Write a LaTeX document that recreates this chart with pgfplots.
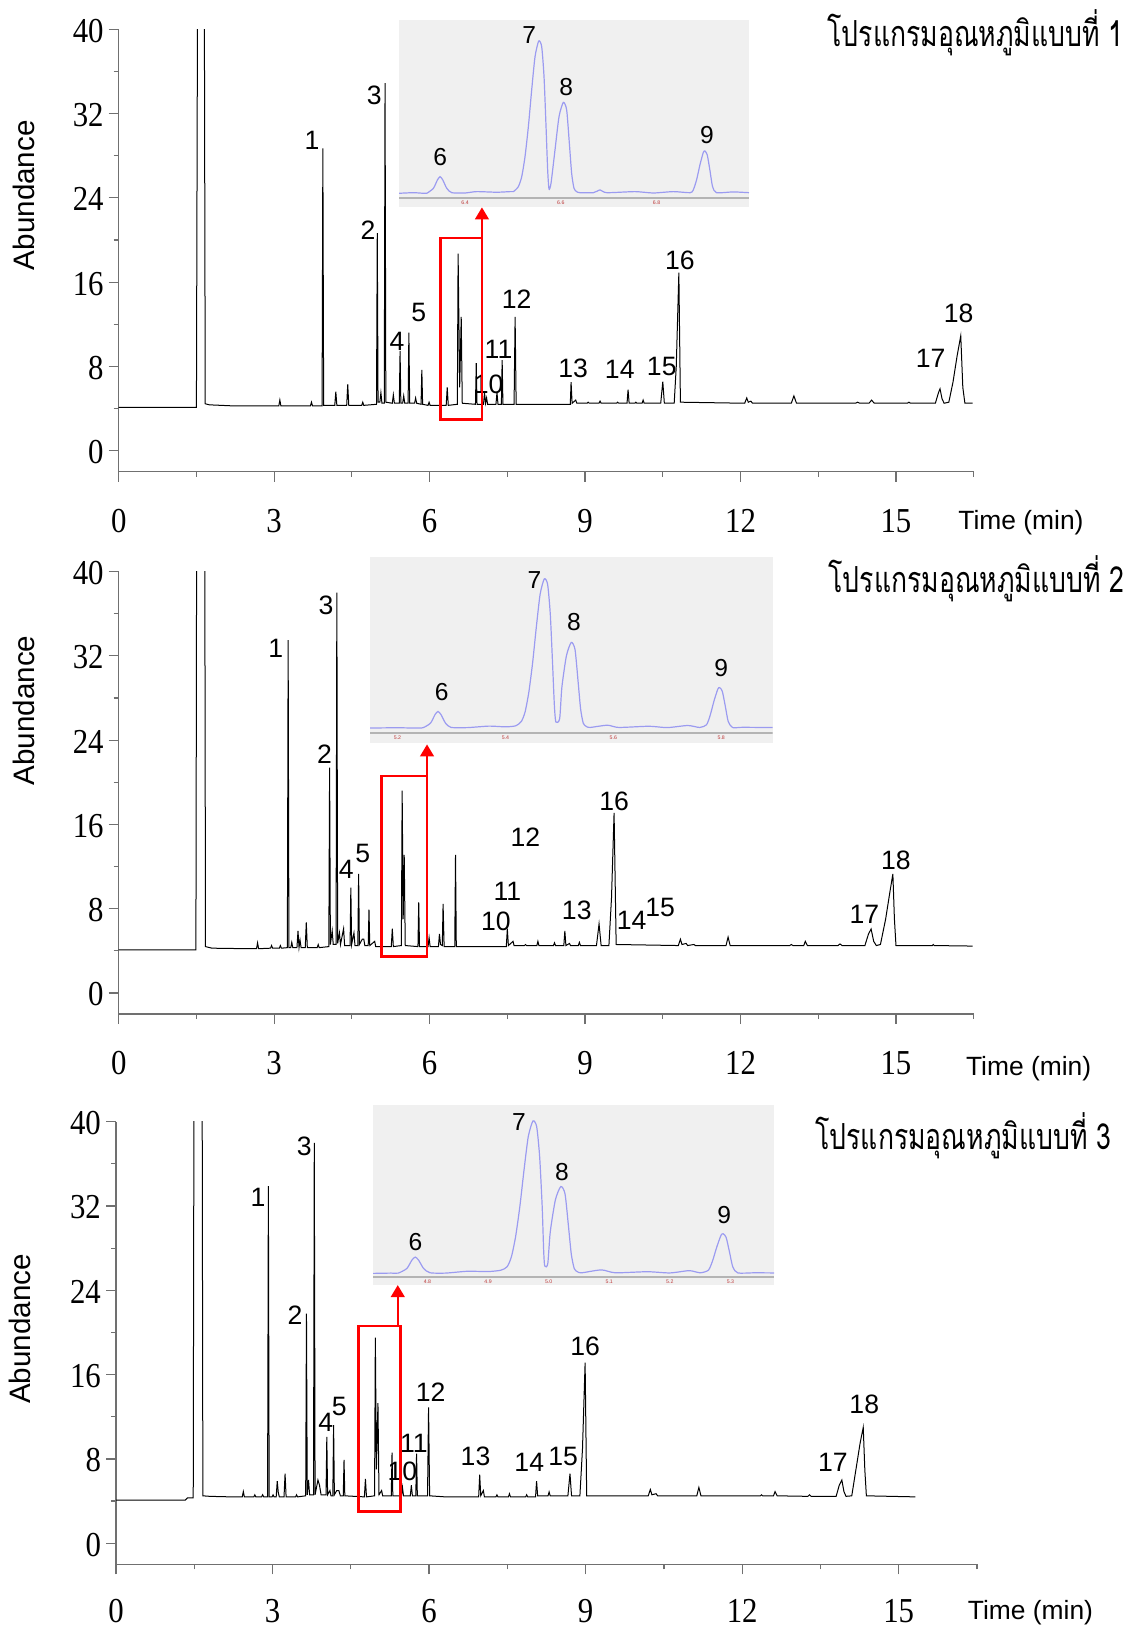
\documentclass[border=0pt]{standalone}
\usepackage{fontspec}
\setmainfont{Liberation Sans}
\newfontfamily\tickfont[FakeStretch=0.88]{Liberation Serif}
\newfontfamily\thaifont[Script=Thai]{Loma}
\usepackage{graphicx}
\usepackage{pgfplots}
\pgfplotsset{compat=1.18}
\usetikzlibrary{arrows.meta}
\definecolor{axisgray}{RGB}{112,112,112}
\definecolor{insetbg}{RGB}{240,240,240}
\definecolor{insettrace}{RGB}{155,155,240}
\definecolor{insetline}{RGB}{180,180,180}
\definecolor{tinyred}{RGB}{190,60,60}
\newcommand{\pkfont}{\fontsize{13.3}{13.3}\selectfont}
\newcommand{\insfont}{\fontsize{12.3}{12.3}\selectfont}
\newcommand{\pk}[3]{\node[font=\pkfont,inner sep=0pt,anchor=center] at (axis cs:#1,#2) {#3};}
\newcommand{\ip}[3]{\node[font=\insfont,inner sep=0pt,anchor=center] at (axis cs:#1,#2) {#3};}
\newcommand{\tl}[2]{\node[font=\fontsize{2.6}{3}\selectfont,text=tinyred,inner sep=0pt] at (axis cs:#1,#2) {#1};}
\newcommand{\thaititle}[1]{\scalebox{1}[1.35]{\resizebox{148pt}{!}{\thaifont\fontsize{14}{14}\selectfont โปรแกรมอุณหภูมิแบบที่ #1}}}
\pgfplotsset{
  chrom/.style={
    scale only axis, anchor=south west,
    xmin=0, xmax=16.5, ymin=-2, ymax=40,
    axis lines=left, axis line style={-, draw=axisgray, line width=0.6pt},
    xtick={0,3,...,15}, ytick={0,8,...,40},
    minor xtick={1.5,4.5,...,16.5}, minor ytick={4,12,...,36},
    tick align=outside, major tick length=5pt, minor tick length=2.5pt,
    every tick/.style={draw=axisgray, line width=0.6pt},
    tick label style={font=\tickfont\fontsize{17.5}{17.5}\selectfont, inner sep=0pt},
    /pgf/number format/assume math mode=true,
    xticklabel style={anchor=center, yshift=-19.5pt},
    yticklabel style={anchor=east, xshift=-2.35pt, yshift=-0.75pt},
    ylabel={Abundance},
    clip mode=individual,
  },
  trace/.style={black, line width=0.5pt, mark=none},
  inset/.style={
    scale only axis, anchor=south west,
    axis background/.style={fill=insetbg},
    axis line style={draw=none}, xtick=\empty, ytick=\empty,
    clip mode=individual,
  },
  itrace/.style={insettrace, line width=0.6pt, mark=none, smooth, tension=0.4},
}
\begin{document}
\begin{tikzpicture}
\useasboundingbox (0,0) rectangle (564pt,-814.5pt);

% ---------------- Panel 1 ----------------
\begin{axis}[chrom, at={(59.35pt,-235.85pt)}, width=427.5pt, height=221.2pt,
  every axis y label/.style={at={(rel axis cs:0,0.625)}, xshift=-47.35pt, rotate=90, anchor=center, font=\fontsize{14.8}{14.8}\selectfont}]
\addplot[trace] coordinates {
(0,4.1)(1.50,4.1)(1.53,60)(1.645,60)(1.67,4.45)(1.75,4.35)(2.2,4.25)(3.0,4.25)
(3.09,4.25)(3.11,4.8)(3.13,4.25)(3.70,4.25)(3.72,4.6)(3.74,4.25)
(3.925,4.25)(3.94,28.7)(3.955,4.3)(4.17,4.3)(4.19,5.6)(4.21,4.3)
(4.40,4.3)(4.42,6.3)(4.44,4.3)(4.69,4.3)(4.71,4.6)(4.73,4.3)
(4.975,4.4)(4.99,20.65)(5.005,4.6)(5.04,4.6)(5.06,5.5)(5.08,4.5)
(5.125,4.5)(5.14,34.9)(5.155,4.6)(5.28,4.5)(5.30,5.3)(5.32,4.5)
(5.415,4.5)(5.43,9.46)(5.445,4.5)(5.48,4.5)(5.50,5.2)(5.52,4.5)
(5.585,4.5)(5.60,11.2)(5.615,4.5)(5.71,4.5)(5.73,5.0)(5.75,4.5)
(5.835,4.4)(5.85,7.67)(5.865,4.4)(5.97,4.3)(5.99,4.6)(6.01,4.3)
(6.32,4.3)(6.34,6.0)(6.36,4.3)
(6.535,4.4)(6.55,18.7)(6.58,6.0)(6.61,12.7)(6.63,4.5)
(6.885,4.4)(6.90,8.3)(6.915,4.4)
(7.04,4.4)(7.06,5.5)(7.08,4.5)(7.10,5.0)(7.12,4.4)
(7.28,4.4)(7.30,5.5)(7.32,4.4)(7.385,4.4)(7.40,8.6)(7.415,4.4)
(7.63,4.4)(7.65,12.7)(7.67,4.4)(7.9,4.4)(8.5,4.4)
(8.715,4.4)(8.73,6.5)(8.75,4.5)(8.82,4.8)(8.84,4.5)
(9.04,4.5)(9.06,4.6)(9.08,4.5)(9.27,4.5)(9.29,4.7)(9.31,4.5)
(9.61,4.5)(9.63,4.6)(9.65,4.5)(9.81,4.5)(9.83,5.8)(9.85,4.5)
(9.96,4.5)(9.98,4.6)(10.0,4.5)(10.10,4.5)(10.12,4.8)(10.14,4.5)
(10.46,4.5)(10.50,6.56)(10.53,4.5)
(10.72,4.5)(10.76,8)(10.81,16.9)(10.84,4.6)
(12.08,4.5)(12.12,5.0)(12.15,4.6)(12.20,4.7)(12.23,4.5)
(12.98,4.5)(13.03,5.2)(13.08,4.5)(14.22,4.5)(14.26,4.6)(14.30,4.5)
(14.48,4.5)(14.53,4.8)(14.58,4.5)(15.22,4.5)(15.25,4.6)(15.28,4.5)
(15.76,4.5)(15.82,5.5)(15.85,5.87)(15.89,4.9)(15.93,4.5)
(16.02,4.6)(16.10,6.5)(16.18,9.0)(16.25,10.9)(16.29,6.0)(16.33,4.5)(16.48,4.5)
};
\pk{3.73}{29.5}{1}\pk{4.81}{20.9}{2}\pk{4.93}{33.7}{3}\pk{5.37}{10.4}{4}\pk{5.79}{13.1}{5}
\pk{7.14}{6.3}{10}\pk{7.33}{9.6}{11}\pk{7.68}{14.4}{12}\pk{8.77}{7.8}{13}\pk{9.67}{7.7}{14}
\pk{10.48}{8.0}{15}\pk{10.83}{18.1}{16}\pk{15.67}{8.8}{17}\pk{16.21}{13.0}{18}
\draw[red, line width=1.2pt] (axis cs:6.21,2.97) rectangle (axis cs:7.01,20.2);
\draw[red, line width=1.2pt, -{Triangle[width=6.8pt,length=6pt]}] (axis cs:7.01,20.2) -- (axis cs:7.01,23.1);
\end{axis}
\begin{axis}[inset, at={(199.5pt,-103.65pt)}, width=175pt, height=93.65pt,
  xmin=6.262, xmax=6.993, ymin=-9.2, ymax=113.8]
\addplot[insetline, line width=1pt] coordinates {(6.262,-2.8)(6.993,-2.8)};
\addplot[itrace] coordinates {
(6.262,0)(6.292,0.4)(6.313,0)(6.320,0)(6.3339,3.3)(6.3423,8.8)(6.3478,10.9)(6.3534,8.8)(6.3617,3.3)(6.3722,0.4)(6.40,0.2)(6.424,1.1)(6.466,0.7)(6.494,1.1)(6.5009,1.1)(6.5113,4.4)(6.5183,10.9)(6.5252,24.1)(6.5322,43.8)(6.5391,67.8)(6.5461,89.7)(6.5538,100)(6.5600,96.3)(6.5649,76.6)(6.5691,43.8)(6.5725,15.3)(6.5753,2.8)(6.5795,6.6)(6.5878,28.4)(6.5962,50.3)(6.6052,59.7)(6.6122,54.7)(6.6178,32.8)(6.6226,13.1)(6.6275,3.3)(6.633,1.1)(6.640,0.4)(6.668,0.4)(6.682,2.2)(6.696,0.4)(6.755,1.1)(6.793,0.2)(6.835,1.1)(6.87,0.4)(6.8766,2.2)(6.8835,8.8)(6.8905,18.6)(6.8974,26.7)(6.9009,27.8)(6.9058,25.2)(6.9113,15.3)(6.9169,4.4)(6.9252,0.4)(6.96,0.9)(6.993,0.4)
};
\ip{6.348}{23.6}{6}\ip{6.534}{104}{7}\ip{6.611}{70}{8}\ip{6.905}{38.3}{9}
\tl{6.4}{-6}\tl{6.6}{-6}\tl{6.8}{-6}
\end{axis}
\node[anchor=base east, inner sep=0pt] at (562pt,-23pt) {\thaititle{1}};
\node[anchor=base west, inner sep=0pt, font=\fontsize{13.2}{13.2}\selectfont] at (479pt,-264.7pt) {Time (min)};

% ---------------- Panel 2 ----------------
\begin{axis}[chrom, at={(59.35pt,-507pt)}, width=427.5pt, height=221.2pt,
  every axis y label/.style={at={(rel axis cs:0,0.686)}, xshift=-47.35pt, rotate=90, anchor=center, font=\fontsize{14.8}{14.8}\selectfont}]
\addplot[trace] coordinates {
(0,4.1)(1.49,4.1)(1.51,60)(1.655,60)(1.675,4.4)(1.8,4.25)(2.5,4.2)
(2.66,4.2)(2.68,4.76)(2.70,4.2)(2.93,4.25)(2.95,4.5)(2.97,4.25)
(3.10,4.25)(3.12,4.5)(3.14,4.25)(3.255,4.3)(3.27,33.5)(3.285,4.3)
(3.32,4.3)(3.34,4.8)(3.36,4.3)(3.44,4.3)(3.46,5.9)(3.48,4.3)(3.50,5.0)(3.52,4.3)
(3.60,4.3)(3.62,6.7)(3.64,4.3)(3.83,4.3)(3.85,4.6)(3.87,4.3)
(4.055,4.4)(4.07,21.4)(4.085,4.6)(4.12,5.9)(4.14,4.6)
(4.195,4.6)(4.21,38.0)(4.225,4.7)(4.26,5.7)(4.28,4.6)(4.34,6.1)(4.36,4.5)
(4.465,4.5)(4.48,10.0)(4.495,4.6)(4.54,5.7)(4.56,4.5)
(4.615,4.5)(4.63,11.3)(4.645,4.6)(4.70,5.1)(4.73,5.1)(4.75,4.5)
(4.815,4.5)(4.83,7.9)(4.845,4.5)(4.94,4.9)(4.96,4.4)
(5.26,4.4)(5.28,6.1)(5.30,4.4)
(5.455,4.5)(5.47,19.2)(5.49,7)(5.51,13.1)(5.53,4.5)
(5.775,4.4)(5.79,8.6)(5.805,4.4)(5.97,4.4)(5.99,5.25)(6.01,4.4)
(6.17,4.4)(6.19,5.6)(6.21,4.6)(6.245,4.5)(6.26,8.45)(6.28,4.4)
(6.485,4.4)(6.50,13.1)(6.515,4.4)(7.0,4.4)
(7.48,4.4)(7.50,6.1)(7.52,4.5)(7.61,4.9)(7.63,4.5)
(7.83,4.5)(7.85,4.6)(7.87,4.5)(8.07,4.5)(8.09,4.9)(8.11,4.5)
(8.39,4.5)(8.41,4.76)(8.43,4.5)(8.59,4.5)(8.61,5.9)(8.63,4.5)(8.70,4.7)(8.72,4.5)
(8.87,4.5)(8.89,4.8)(8.91,4.5)(9.22,4.5)(9.27,6.56)(9.31,4.5)
(9.46,4.5)(9.51,9)(9.56,17.1)(9.60,4.6)
(10.80,4.5)(10.84,5.1)(10.87,4.6)(10.95,4.7)(10.98,4.5)(11.10,4.6)(11.13,4.5)
(11.72,4.5)(11.76,5.3)(11.80,4.5)
(12.95,4.5)(12.98,4.6)(13.01,4.5)(13.22,4.5)(13.25,4.9)(13.29,4.5)
(13.88,4.5)(13.92,4.65)(13.96,4.5)
(14.40,4.5)(14.47,5.6)(14.52,6.07)(14.57,4.9)(14.62,4.5)
(14.70,4.6)(14.80,7.0)(14.88,9.5)(14.94,11.3)(14.97,7.0)(15.0,4.5)
(15.70,4.5)(15.72,4.6)(15.74,4.5)(16.48,4.45)
};
\pk{3.03}{32.7}{1}\pk{3.97}{22.7}{2}\pk{4.0}{36.8}{3}\pk{4.39}{11.7}{4}\pk{4.71}{13.2}{5}
\pk{7.28}{6.8}{10}\pk{7.50}{9.66}{11}\pk{7.85}{14.8}{12}\pk{8.84}{7.86}{13}\pk{9.90}{6.9}{14}
\pk{10.45}{8.1}{15}\pk{9.56}{18.2}{16}\pk{14.39}{7.5}{17}\pk{15.0}{12.6}{18}
\draw[red, line width=1.2pt] (axis cs:5.07,3.46) rectangle (axis cs:5.95,20.6);
\draw[red, line width=1.2pt, -{Triangle[width=6.8pt,length=6pt]}] (axis cs:5.95,20.6) -- (axis cs:5.95,23.6);
\end{axis}
\begin{axis}[inset, at={(185pt,-371.4pt)}, width=201.25pt, height=93.15pt,
  xmin=5.149, xmax=5.895, ymin=-9.9, ymax=115]
\addplot[insetline, line width=1pt] coordinates {(5.149,-3)(5.895,-3)};
\addplot[itrace] coordinates {
(5.149,0)(5.20,0.2)(5.23,0)(5.247,0.2)(5.2611,3.3)(5.2695,9.0)(5.275,11.1)(5.2806,9.0)(5.2889,3.3)(5.2994,0.4)(5.33,0.3)(5.37,1.3)(5.40,0.8)(5.4191,1.5)(5.4295,4.4)(5.4365,10.9)(5.4434,24.1)(5.4504,43.8)(5.4573,67.8)(5.4643,89.7)(5.472,100)(5.4782,96.3)(5.4831,76.6)(5.4873,43.8)(5.4907,15.3)(5.4935,4)(5.5005,6.3)(5.5046,27.3)(5.5130,48.4)(5.522,57.4)(5.529,52.6)(5.5346,31.5)(5.5394,12.6)(5.5443,3.2)(5.5498,1.1)(5.5568,0.4)(5.589,1.9)(5.61,0.4)(5.666,1.2)(5.70,0.3)(5.738,1.7)(5.76,0.4)(5.7727,2.2)(5.7796,8.7)(5.7866,18.2)(5.7935,26.0)(5.797,27.1)(5.8019,24.7)(5.8074,14.9)(5.813,4.3)(5.8213,0.3)(5.84,0.5)(5.895,0.3)
};
\ip{5.282}{24.3}{6}\ip{5.454}{99.4}{7}\ip{5.527}{71}{8}\ip{5.80}{40.4}{9}
\tl{5.2}{-6.3}\tl{5.4}{-6.3}\tl{5.6}{-6.3}\tl{5.8}{-6.3}
\end{axis}
\node[anchor=base east, inner sep=0pt] at (562.5pt,-296pt) {\thaititle{2}};
\node[anchor=base west, inner sep=0pt, font=\fontsize{13.2}{13.2}\selectfont] at (482.8pt,-537.9pt) {Time (min)};

% ---------------- Panel 3 ----------------
\begin{axis}[chrom, at={(58pt,-782.15pt)}, width=430.5pt, height=221.3pt,
  xticklabel style={yshift=1.2pt},
  every axis y label/.style={at={(rel axis cs:0,0.532)}, xshift=-48.2pt, rotate=90, anchor=center, font=\fontsize{14.8}{14.8}\selectfont}]
\addplot[trace] coordinates {
(0,4.1)(1.33,4.1)(1.37,4.3)(1.48,4.3)(1.50,60)(1.645,60)(1.665,4.5)(1.8,4.45)(2.2,4.4)
(2.42,4.4)(2.44,4.9)(2.46,4.4)(2.64,4.4)(2.66,4.6)(2.68,4.4)(2.79,4.4)(2.81,4.6)(2.83,4.4)
(2.905,4.4)(2.92,33.9)(2.935,4.4)
(2.99,4.4)(3.01,4.6)(3.03,4.4)(3.07,4.4)(3.09,5.9)(3.11,4.8)(3.13,4.4)
(3.22,4.4)(3.24,6.6)(3.26,4.4)(3.44,4.4)(3.46,4.6)(3.48,4.4)
(3.635,4.5)(3.65,21.8)(3.665,4.6)(3.69,6.0)(3.71,4.6)
(3.785,4.6)(3.80,38.0)(3.815,4.6)(3.87,6.0)(3.90,5.5)(3.93,4.6)
(4.025,4.6)(4.04,10.1)(4.055,4.6)(4.10,5.0)(4.12,4.5)
(4.155,4.5)(4.17,11.2)(4.185,4.6)(4.23,5.0)(4.27,5.0)(4.30,4.5)
(4.355,4.5)(4.37,7.9)(4.385,4.5)(4.76,4.4)(4.78,6.1)(4.80,4.4)
(4.955,4.5)(4.97,19.5)(4.99,7)(5.02,13.3)(5.04,4.6)(5.09,5.0)(5.11,4.5)
(5.275,4.5)(5.29,8.6)(5.305,4.5)(5.47,4.5)(5.49,5.3)(5.51,4.5)
(5.64,4.5)(5.66,5.5)(5.68,4.5)(5.745,4.5)(5.76,8.5)(5.775,4.5)
(5.97,4.5)(5.99,12.9)(6.01,4.5)(6.31,4.4)
(6.95,4.4)(6.97,6.5)(6.99,4.5)(7.04,5.0)(7.06,4.4)
(7.28,4.4)(7.30,4.6)(7.32,4.4)(7.52,4.4)(7.54,4.7)(7.56,4.4)
(7.85,4.4)(7.87,4.6)(7.89,4.4)(8.04,4.4)(8.06,5.9)(8.08,4.5)
(8.28,4.5)(8.30,4.87)(8.32,4.5)(8.66,4.5)(8.70,6.6)(8.73,4.5)
(8.89,4.5)(8.94,9)(8.99,17.15)(9.02,4.5)
(10.20,4.5)(10.24,5.1)(10.27,4.6)(10.35,4.7)(10.38,4.5)
(11.13,4.5)(11.17,5.3)(11.21,4.5)
(12.35,4.5)(12.37,4.6)(12.39,4.5)(12.60,4.5)(12.63,4.9)(12.67,4.5)
(13.26,4.45)(13.29,4.6)(13.32,4.45)
(13.80,4.45)(13.86,5.5)(13.91,6.0)(13.95,4.9)(13.99,4.45)
(14.10,4.5)(14.18,7.0)(14.26,9.5)(14.32,11.0)(14.35,7)(14.38,4.5)(15.32,4.4)
};
\pk{2.72}{32.8}{1}\pk{3.43}{21.6}{2}\pk{3.61}{37.7}{3}\pk{4.02}{11.5}{4}\pk{4.28}{13.0}{5}
\pk{5.49}{6.85}{10}\pk{5.71}{9.5}{11}\pk{6.03}{14.3}{12}\pk{6.89}{8.2}{13}\pk{7.92}{7.7}{14}
\pk{8.57}{8.2}{15}\pk{8.99}{18.7}{16}\pk{13.74}{7.7}{17}\pk{14.34}{13.2}{18}
\draw[red, line width=1.2pt] (axis cs:4.65,3.0) rectangle (axis cs:5.45,20.6);
\draw[red, line width=1.2pt, -{Triangle[width=6.8pt,length=6pt]}] (axis cs:5.40,20.6) -- (axis cs:5.40,24.5);
\end{axis}
\begin{axis}[inset, at={(186.5pt,-642.25pt)}, width=200.5pt, height=89.75pt,
  xmin=4.710, xmax=5.372, ymin=-7.3, ymax=110.5]
\addplot[insetline, line width=1pt] coordinates {(4.710,-2.5)(5.372,-2.5)};
\addplot[itrace] coordinates {
(4.710,0)(4.74,0.2)(4.7517,0.2)(4.7658,3.2)(4.7742,8.7)(4.7797,10.7)(4.7853,8.7)(4.7936,3.2)(4.8041,0.4)(4.83,0.2)(4.866,1.4)(4.90,1.2)(4.9211,2.1)(4.9315,4.4)(4.9385,10.9)(4.9454,24.1)(4.9524,43.8)(4.9593,67.8)(4.9663,89.7)(4.974,100)(4.9802,96.3)(4.9851,76.6)(4.9893,43.8)(4.9917,15.3)(4.9935,4.9)(4.9985,6.3)(5.0026,27.1)(5.011,48.1)(5.020,57)(5.027,52.2)(5.0326,31.3)(5.0374,12.5)(5.0423,3.1)(5.0478,1.0)(5.0548,0.4)(5.087,2.3)(5.11,0.4)(5.163,1.1)(5.20,0.3)(5.232,1.8)(5.25,0.4)(5.2637,2.1)(5.2706,8.3)(5.2776,17.4)(5.2845,25.0)(5.288,26)(5.2929,23.7)(5.2984,14.3)(5.304,4.2)(5.3123,0.3)(5.34,0.4)(5.372,0.3)
};
\ip{4.780}{20.9}{6}\ip{4.951}{99.1}{7}\ip{5.022}{66.5}{8}\ip{5.290}{38.1}{9}
\tl{4.8}{-5.2}\tl{4.9}{-5.2}\tl{5.0}{-5.2}\tl{5.1}{-5.2}\tl{5.2}{-5.2}\tl{5.3}{-5.2}
\end{axis}
\node[anchor=base east, inner sep=0pt] at (555.9pt,-574.7pt) {\thaititle{3}};
\node[anchor=base west, inner sep=0pt, font=\fontsize{13.2}{13.2}\selectfont] at (483.75pt,-809.9pt) {Time (min)};
\end{tikzpicture}
\end{document}
